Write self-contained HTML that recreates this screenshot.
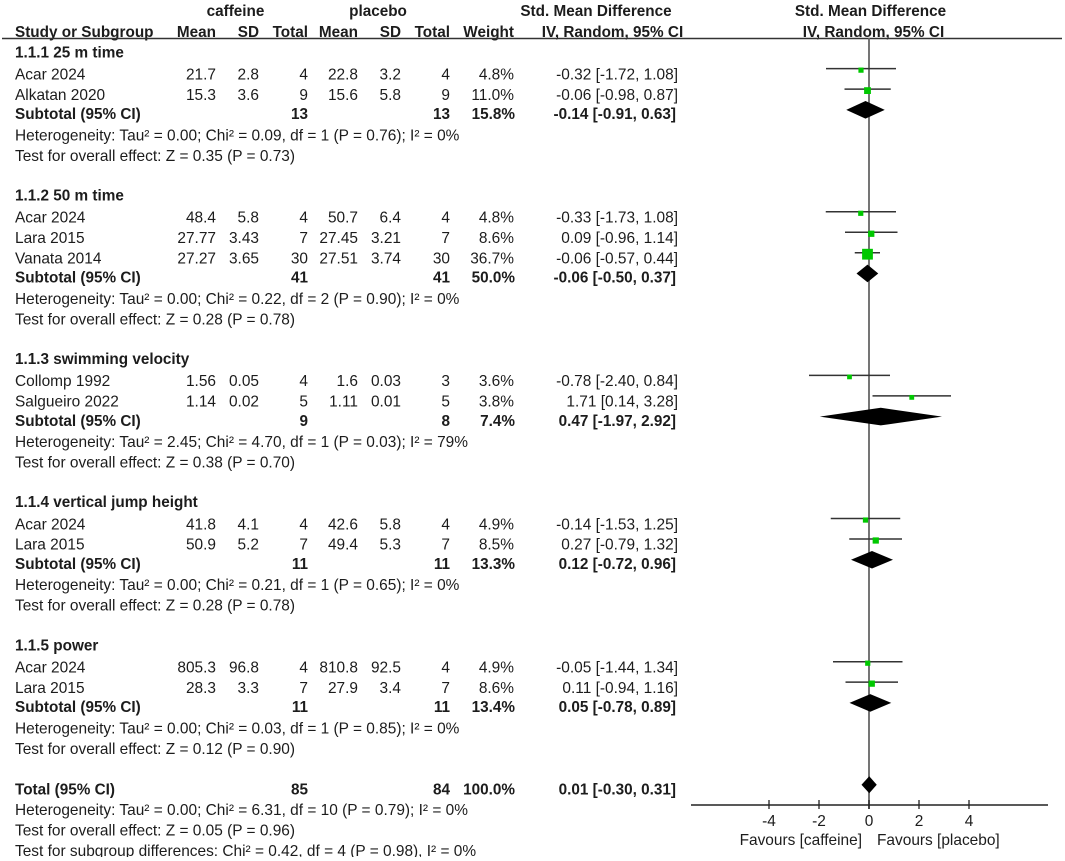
<!DOCTYPE html>
<html lang="en">
<head>
<meta charset="utf-8">
<title>Forest plot: caffeine vs placebo</title>
<style>
html,body{margin:0;padding:0;background:#fff;}
svg{display:block;}
text{font-family:"Liberation Sans",Arial,sans-serif;font-size:15.44px;fill:#1c1c1c;}
text.b{font-weight:bold;font-size:15.3px;}
</style>
</head>
<body>
<svg id="chart" width="1065" height="861" viewBox="0 0 1065 861" xmlns="http://www.w3.org/2000/svg"></svg>
<script>
var groupNames = ['1.1.1 25 m time','1.1.2 50 m time','1.1.3 swimming velocity','1.1.4 vertical jump height','1.1.5 power'];
var studyGroups = [0,0,1,1,1,2,2,3,3,4,4];
var studyNames = ['Acar 2024','Alkatan 2020','Acar 2024','Lara 2015','Vanata 2014','Collomp 1992','Salgueiro 2022','Acar 2024','Lara 2015','Acar 2024','Lara 2015'];
var caffeineMeans = [21.7,15.3,48.4,27.77,27.27,1.56,1.14,41.8,50.9,805.3,28.3];
var caffeineSDs = [2.8,3.6,5.8,3.43,3.65,0.05,0.02,4.1,5.2,96.8,3.3];
var caffeineTotals = [4,9,4,7,30,4,5,4,7,4,7];
var placeboMeans = [22.8,15.6,50.7,27.45,27.51,1.6,1.11,42.6,49.4,810.8,27.9];
var placeboSDs = [3.2,5.8,6.4,3.21,3.74,0.03,0.01,5.8,5.3,92.5,3.4];
var placeboTotals = [4,9,4,7,30,3,5,4,7,4,7];
var studyWeights = [4.8,11.0,4.8,8.6,36.7,3.6,3.8,4.9,8.5,4.9,8.6];
var studySMD = [-0.32,-0.06,-0.33,0.09,-0.06,-0.78,1.71,-0.14,0.27,-0.05,0.11];
var studyLow = [-1.72,-0.98,-1.73,-0.96,-0.57,-2.40,0.14,-1.53,-0.79,-1.44,-0.94];
var studyHigh = [1.08,0.87,1.08,1.14,0.44,0.84,3.28,1.25,1.32,1.34,1.16];
var subCaffeineTotals = [13,41,9,11,11];
var subPlaceboTotals = [13,41,8,11,11];
var subWeights = [15.8,50.0,7.4,13.3,13.4];
var subSMD = [-0.14,-0.06,0.47,0.12,0.05];
var subLow = [-0.91,-0.50,-1.97,-0.72,-0.78];
var subHigh = [0.63,0.37,2.92,0.96,0.89];
var hetLines = [
  'Heterogeneity: Tau\u00B2 = 0.00; Chi\u00B2 = 0.09, df = 1 (P = 0.76); I\u00B2 = 0%',
  'Heterogeneity: Tau\u00B2 = 0.00; Chi\u00B2 = 0.22, df = 2 (P = 0.90); I\u00B2 = 0%',
  'Heterogeneity: Tau\u00B2 = 2.45; Chi\u00B2 = 4.70, df = 1 (P = 0.03); I\u00B2 = 79%',
  'Heterogeneity: Tau\u00B2 = 0.00; Chi\u00B2 = 0.21, df = 1 (P = 0.65); I\u00B2 = 0%',
  'Heterogeneity: Tau\u00B2 = 0.00; Chi\u00B2 = 0.03, df = 1 (P = 0.85); I\u00B2 = 0%'
];
var effectLines = [
  'Test for overall effect: Z = 0.35 (P = 0.73)',
  'Test for overall effect: Z = 0.28 (P = 0.78)',
  'Test for overall effect: Z = 0.38 (P = 0.70)',
  'Test for overall effect: Z = 0.28 (P = 0.78)',
  'Test for overall effect: Z = 0.12 (P = 0.90)'
];
var totalCaffeine = 85;
var totalPlacebo = 84;
var totalWeight = 100.0;
var totalSMD = 0.01;
var totalLow = -0.30;
var totalHigh = 0.31;
var totalLines = [
  'Heterogeneity: Tau\u00B2 = 0.00; Chi\u00B2 = 6.31, df = 10 (P = 0.79); I\u00B2 = 0%',
  'Test for overall effect: Z = 0.05 (P = 0.96)',
  'Test for subgroup differences: Chi\u00B2 = 0.42, df = 4 (P = 0.98), I\u00B2 = 0%'
];
var tickValues = [-4,-2,0,2,4];

var svg = document.getElementById('chart');
var NS = 'http://www.w3.org/2000/svg';
function xScale(v){ return 869 + v * 25; }
function rowBase(r){ return 58.5 + r * 20.45; }
function pct(v){ return v.toFixed(1) + '%'; }
function ciText(m,l,h){ return m.toFixed(2) + ' [' + l.toFixed(2) + ', ' + h.toFixed(2) + ']'; }

function txt(x,y,s,anchor,bold,name){
  var t = document.createElementNS(NS,'text');
  t.setAttribute('x',x);
  t.setAttribute('y',y);
  t.setAttribute('text-anchor',anchor||'start');
  if(bold) t.setAttribute('class','b');
  
  
  t.textContent = s;
  svg.appendChild(t);
  return t;
}
function line(x1,y1,x2,y2,color,w,name){
  var l = document.createElementNS(NS,'line');
  l.setAttribute('x1',x1); l.setAttribute('y1',y1);
  l.setAttribute('x2',x2); l.setAttribute('y2',y2);
  l.setAttribute('stroke',color); l.setAttribute('stroke-width',w);
  
  
  svg.appendChild(l);
  return l;
}
function diamond(m,lo,hi,cy,hh,name){
  var p = document.createElementNS(NS,'polygon');
  p.setAttribute('points',[xScale(lo)+','+cy,xScale(m)+','+(cy-hh),xScale(hi)+','+cy,xScale(m)+','+(cy+hh)].join(' '));
  p.setAttribute('fill','#000');
  
  
  svg.appendChild(p);
}
function square(m,w,cy,name){
  var s = 2 + 1.45 * Math.sqrt(w);
  var r = document.createElementNS(NS,'rect');
  r.setAttribute('x',xScale(m)-s/2);
  r.setAttribute('y',cy-s/2);
  r.setAttribute('width',s);
  r.setAttribute('height',s);
  r.setAttribute('fill','#00c800');
  
  
  svg.appendChild(r);
}

/* column right edges */
var colMean=216, colSD=259, colTotal=308, colMean2=358, colSD2=401, colTotal2=450, colWeight=514, colCI=678;

/* header */
txt(235.5,16,'caffeine','middle',true,'caffeine-group-header');
txt(378,16,'placebo','middle',true,'placebo-group-header');
txt(596,16,'Std. Mean Difference','middle',true,'table-effect-header');
txt(870.5,16,'Std. Mean Difference','middle',true,'plot-effect-header');
txt(15,37,'Study or Subgroup','start',true,'study-column-header');
txt(colMean,37,'Mean','end',true,'caffeine-mean-header');
txt(colSD,37,'SD','end',true,'caffeine-sd-header');
txt(colTotal,37,'Total','end',true,'caffeine-total-header');
txt(colMean2,37,'Mean','end',true,'placebo-mean-header');
txt(colSD2,37,'SD','end',true,'placebo-sd-header');
txt(colTotal2,37,'Total','end',true,'placebo-total-header');
txt(colWeight,37,'Weight','end',true,'weight-header');
txt(612.5,37,'IV, Random, 95% CI','middle',true,'table-method-header');
txt(873.5,37,'IV, Random, 95% CI','middle',true,'plot-method-header');
line(2,38.5,1062,38.5,'#333',1.5,'header-rule');

/* zero line */
line(xScale(0),38,xScale(0),809,'#666',1.8,'zero-line');

/* rows */
var row = 0;
groupNames.forEach(function(g,gi){
  txt(15,rowBase(row)-1.2,g,'start',true,'group-heading');
  row++;
  studyNames.forEach(function(n,i){
    if(studyGroups[i]!==gi) return;
    var b = rowBase(row);
    var tb2 = b + 0.4;
    txt(15,tb2,n,'start',false,'study-name');
    txt(colMean,tb2,String(caffeineMeans[i]),'end',false,'caffeine-mean');
    txt(colSD,tb2,String(caffeineSDs[i]),'end',false,'caffeine-sd');
    txt(colTotal,tb2,String(caffeineTotals[i]),'end',false,'caffeine-total');
    txt(colMean2,tb2,String(placeboMeans[i]),'end',false,'placebo-mean');
    txt(colSD2,tb2,String(placeboSDs[i]),'end',false,'placebo-sd');
    txt(colTotal2,tb2,String(placeboTotals[i]),'end',false,'placebo-total');
    txt(colWeight,tb2,pct(studyWeights[i]),'end',false,'study-weight');
    txt(colCI,tb2,ciText(studySMD[i],studyLow[i],studyHigh[i]),'end',false,'study-ci');
    line(xScale(studyLow[i]),b-10.3,xScale(studyHigh[i]),b-10.3,'#333',1.5,'study-ci-line');
    square(studySMD[i],studyWeights[i],b-8.8,'study-effect-marker');
    row++;
  });
  var b = rowBase(row);
  var sb = b - 0.8;
  txt(15,sb,'Subtotal (95% CI)','start',true,'subtotal-label');
  txt(colTotal,sb,String(subCaffeineTotals[gi]),'end',true,'subtotal-caffeine-total');
  txt(colTotal2,sb,String(subPlaceboTotals[gi]),'end',true,'subtotal-placebo-total');
  txt(colWeight+1,sb,pct(subWeights[gi]),'end',true,'subtotal-weight');
  txt(colCI-2,sb,ciText(subSMD[gi],subLow[gi],subHigh[gi]),'end',true,'subtotal-ci');
  diamond(subSMD[gi],subLow[gi],subHigh[gi],b-10,8.8,'subtotal-diamond');
  row++;
  txt(15,rowBase(row),hetLines[gi],'start',false,'heterogeneity-note');
  row++;
  txt(15,rowBase(row),effectLines[gi],'start',false,'overall-effect-note');
  row += 2;
});

/* total */
var tb = rowBase(row);
txt(15,tb,'Total (95% CI)','start',true,'total-label');
txt(colTotal,tb,String(totalCaffeine),'end',true,'total-caffeine');
txt(colTotal2,tb,String(totalPlacebo),'end',true,'total-placebo');
txt(colWeight+1,tb,pct(totalWeight),'end',true,'total-weight');
txt(colCI-2,tb,ciText(totalSMD,totalLow,totalHigh),'end',true,'total-ci');
diamond(totalSMD,totalLow,totalHigh,tb-10,8.5,'total-diamond');
totalLines.forEach(function(s,i){
  txt(15,rowBase(row+1+i),s,'start',false,'total-note');
});

/* axis */
line(691,805,1048,805,'#222',1.5,'x-axis');
tickValues.forEach(function(v){
  line(xScale(v),800,xScale(v),809,'#222',1.3,'x-axis-tick');
  txt(xScale(v),826,String(v),'middle',false,'x-axis-tick-label');
});
txt(862,845,'Favours [caffeine]','end',false,'favours-caffeine-label');
txt(877,845,'Favours [placebo]','start',false,'favours-placebo-label');

/* bottom crop */
var crop = document.createElementNS(NS,'rect');
crop.setAttribute('x',0);
crop.setAttribute('y',857);
crop.setAttribute('width',1065);
crop.setAttribute('height',4);
crop.setAttribute('fill','#fff');


svg.appendChild(crop);
</script>
</body>
</html>
